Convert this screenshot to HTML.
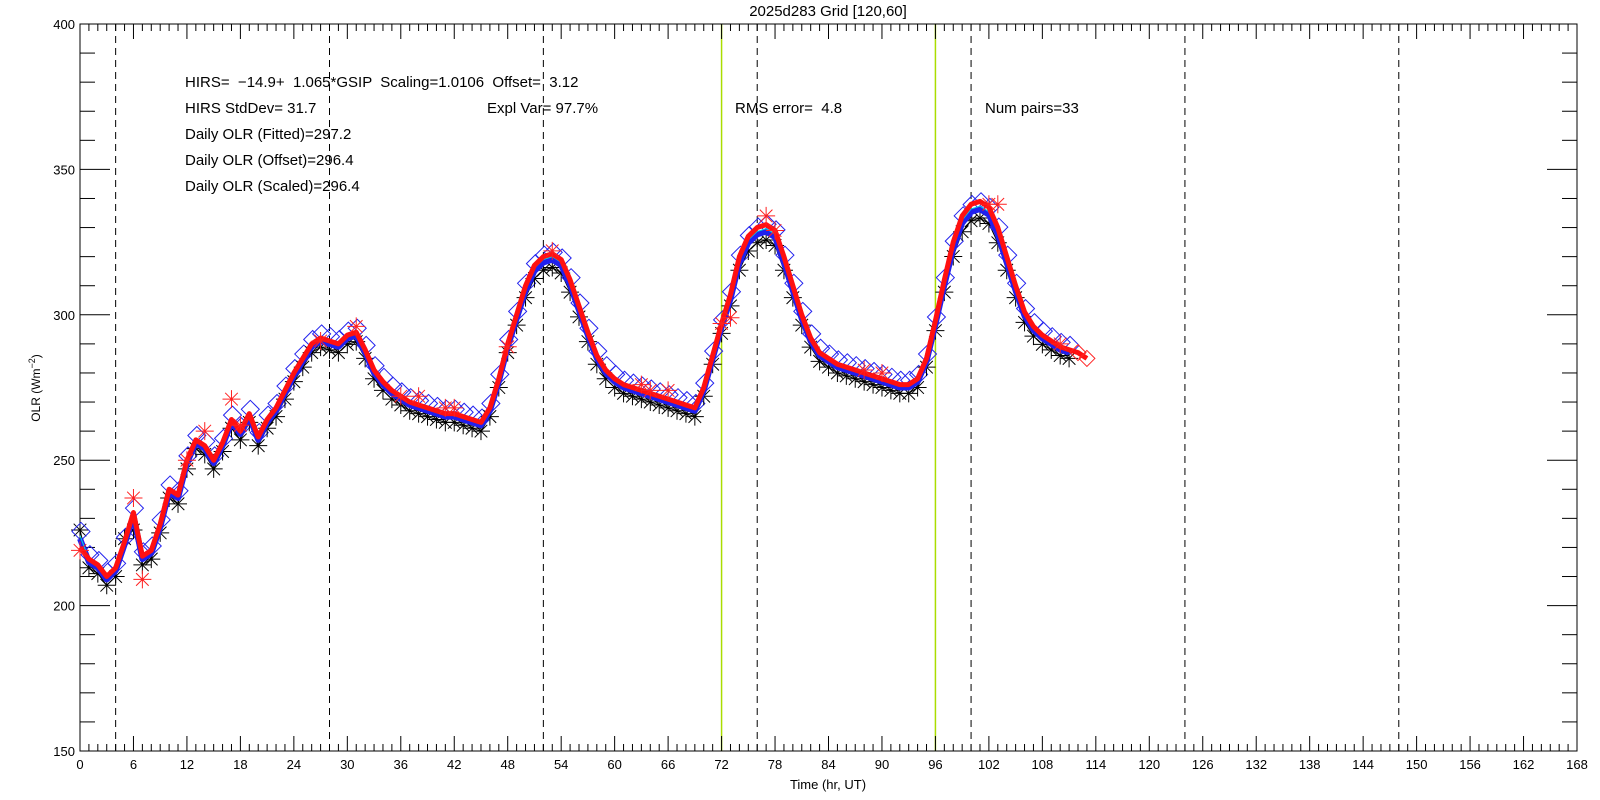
<!DOCTYPE html>
<html><head><meta charset="utf-8"><style>
html,body{margin:0;padding:0;background:#fff;}
svg{display:block;font-family:"Liberation Sans",sans-serif;}
</style></head><body>
<svg id="s" width="1600" height="800" xmlns="http://www.w3.org/2000/svg"></svg>
<script>
const L=80,R=1577,T=24,B=751;
const X=h=>L+h*(R-L)/168, Y=v=>T+(400-v)*(B-T)/250;
let o=[];
o.push(`<rect width="1600" height="800" fill="#fff"/>`);
[4,28,52,76,100,124,148].forEach(h=>o.push(`<line x1="${X(h)}" y1="${T}" x2="${X(h)}" y2="${B}" stroke="#000" stroke-dasharray="7,5"/>`));
[72,96].forEach(h=>o.push(`<line x1="${X(h)}" y1="${T}" x2="${X(h)}" y2="${B}" stroke="#aadd00" stroke-width="1.5"/>`));
o.push(`<rect x="${L}" y="${T}" width="${R-L}" height="${B-T}" fill="none" stroke="#000"/>`);
for(let h=0;h<=168;h++){const x=X(h),len=h%6==0?15:7;
 o.push(`<line x1="${x}" y1="${B}" x2="${x}" y2="${B-len}" stroke="#000"/><line x1="${x}" y1="${T}" x2="${x}" y2="${T+len}" stroke="#000"/>`);
 if(h%6==0)o.push(`<text x="${x}" y="${B+18}" font-size="13" text-anchor="middle">${h}</text>`);}
for(let v=150;v<=400;v+=10){const y=Y(v),len=v%50==0?30:15;
 o.push(`<line x1="${L}" y1="${y}" x2="${L+len}" y2="${y}" stroke="#000"/><line x1="${R}" y1="${y}" x2="${R-len}" y2="${y}" stroke="#000"/>`);
 if(v%50==0)o.push(`<text x="${L-5}" y="${y+5}" font-size="13" text-anchor="end">${v}</text>`);}
o.push(`<text x="828" y="16" font-size="15" text-anchor="middle">2025d283 Grid [120,60]</text>`);
o.push(`<text x="828" y="789" font-size="13" text-anchor="middle">Time (hr, UT)</text>`);
o.push(`<text transform="translate(40,388) rotate(-90)" font-size="12" text-anchor="middle">OLR (Wm<tspan dy="-5" font-size="9">−2</tspan><tspan dy="5">)</tspan></text>`);
const tx=[[185,82,"HIRS=  −14.9+  1.065*GSIP  Scaling=1.0106  Offset=  3.12"],[185,108,"HIRS StdDev= 31.7"],[487,108,"Expl Var= 97.7%"],[735,108,"RMS error=  4.8"],[985,108,"Num pairs=33"],[185,134,"Daily OLR (Fitted)=297.2"],[185,160,"Daily OLR (Offset)=296.4"],[185,186,"Daily OLR (Scaled)=296.4"]];
tx.forEach(t=>o.push(`<text x="${t[0]}" y="${t[1]+5}" font-size="15" xml:space="preserve">${t[2]}</text>`));
const r=[220,216,214,210,213,222,232,217,219,228,240,238,250,257,255,250,256,264,260,266,258,264,268,274,280,285,290,292,291,290,293,294,288,281,277,274,272,270,269,268,267,266,266,265,264,263,268,278,290,300,310,317,320,321,319,312,303,294,286,281,278,276,275,274,273,272,271,270,269,268,275,286,297,307,320,327,330,331,329,320,310,300,292,287,285,283,282,281,280,279,278,277,276,276,278,285,298,312,325,334,338,339,337,330,320,310,301,296,293,291,289,288,287,285];
const peak=v=>Math.max(0,(v-290)/45);
const bl=r.map(v=>v-1-1.5*peak(v)), bk=r.map(v=>v-3-2.5*peak(v));
bl[0]=223;bk[0]=226;bk[6]=226;bk[5]=223;
const pts=(a,n)=>a.slice(0,n).map((v,i)=>X(i)+","+Y(v)).join(" ");
const n=112;
o.push(`<polyline points="${pts(bk,n)}" fill="none" stroke="#000" stroke-width="1"/>`);
for(let i=0;i<n;i++){const x=X(i),y=Y(bk[i]),s=9;
 o.push(`<path d="M${x-s},${y}h${2*s}M${x},${y-s}v${2*s}M${x-s*.7},${y-s*.7}l${1.4*s},${1.4*s}M${x-s*.7},${y+s*.7}l${1.4*s},${-1.4*s}" stroke="#000" fill="none"/>`);
 const yb=Y(bl[i]+2.5),d=9;
 o.push(`<path d="M${x+1},${yb-d}l${d},${d}l${-d},${d}l${-d},${-d}z" stroke="#2222ee" fill="none"/>`);}
o.push(`<polyline points="${pts(bl,n)}" fill="none" stroke="#2020ee" stroke-width="6" stroke-linejoin="round"/>`);
o.push(`<polyline points="${pts(bl.map(v=>v+1),n)}" fill="none" stroke="#00dddd" stroke-width="1"/>`);
o.push(`<polyline points="${pts(r,114)}" fill="none" stroke="#ff1010" stroke-width="5" stroke-linejoin="round"/>`);
const rs=[[0,219],[6,237],[7,209],[12,250],[14,260],[17,271],[18,262],[27,291],[31,296],[36,272],[38,272],[41,268],[42,268],[48,289],[53,322],[63,276],[64,274],[66,274],[72,297],[73,299],[77,334],[78,329],[88,281],[90,280],[102,338],[103,338],[110,290]];
rs.forEach(p=>{const x=X(p[0]),y=Y(p[1]),s=9;o.push(`<path d="M${x-s},${y}h${2*s}M${x},${y-s}v${2*s}M${x-s*.7},${y-s*.7}l${1.4*s},${1.4*s}M${x-s*.7},${y+s*.7}l${1.4*s},${-1.4*s}" stroke="#ff2020" fill="none"/>`);});
[[112,287],[113,285]].forEach(p=>{const x=X(p[0]),y=Y(p[1]),d=8;o.push(`<path d="M${x},${y-d}l${d},${d}l${-d},${d}l${-d},${-d}z" stroke="#ff2020" fill="none"/>`);});
document.getElementById("s").innerHTML=o.join("");
</script>
</body></html>
